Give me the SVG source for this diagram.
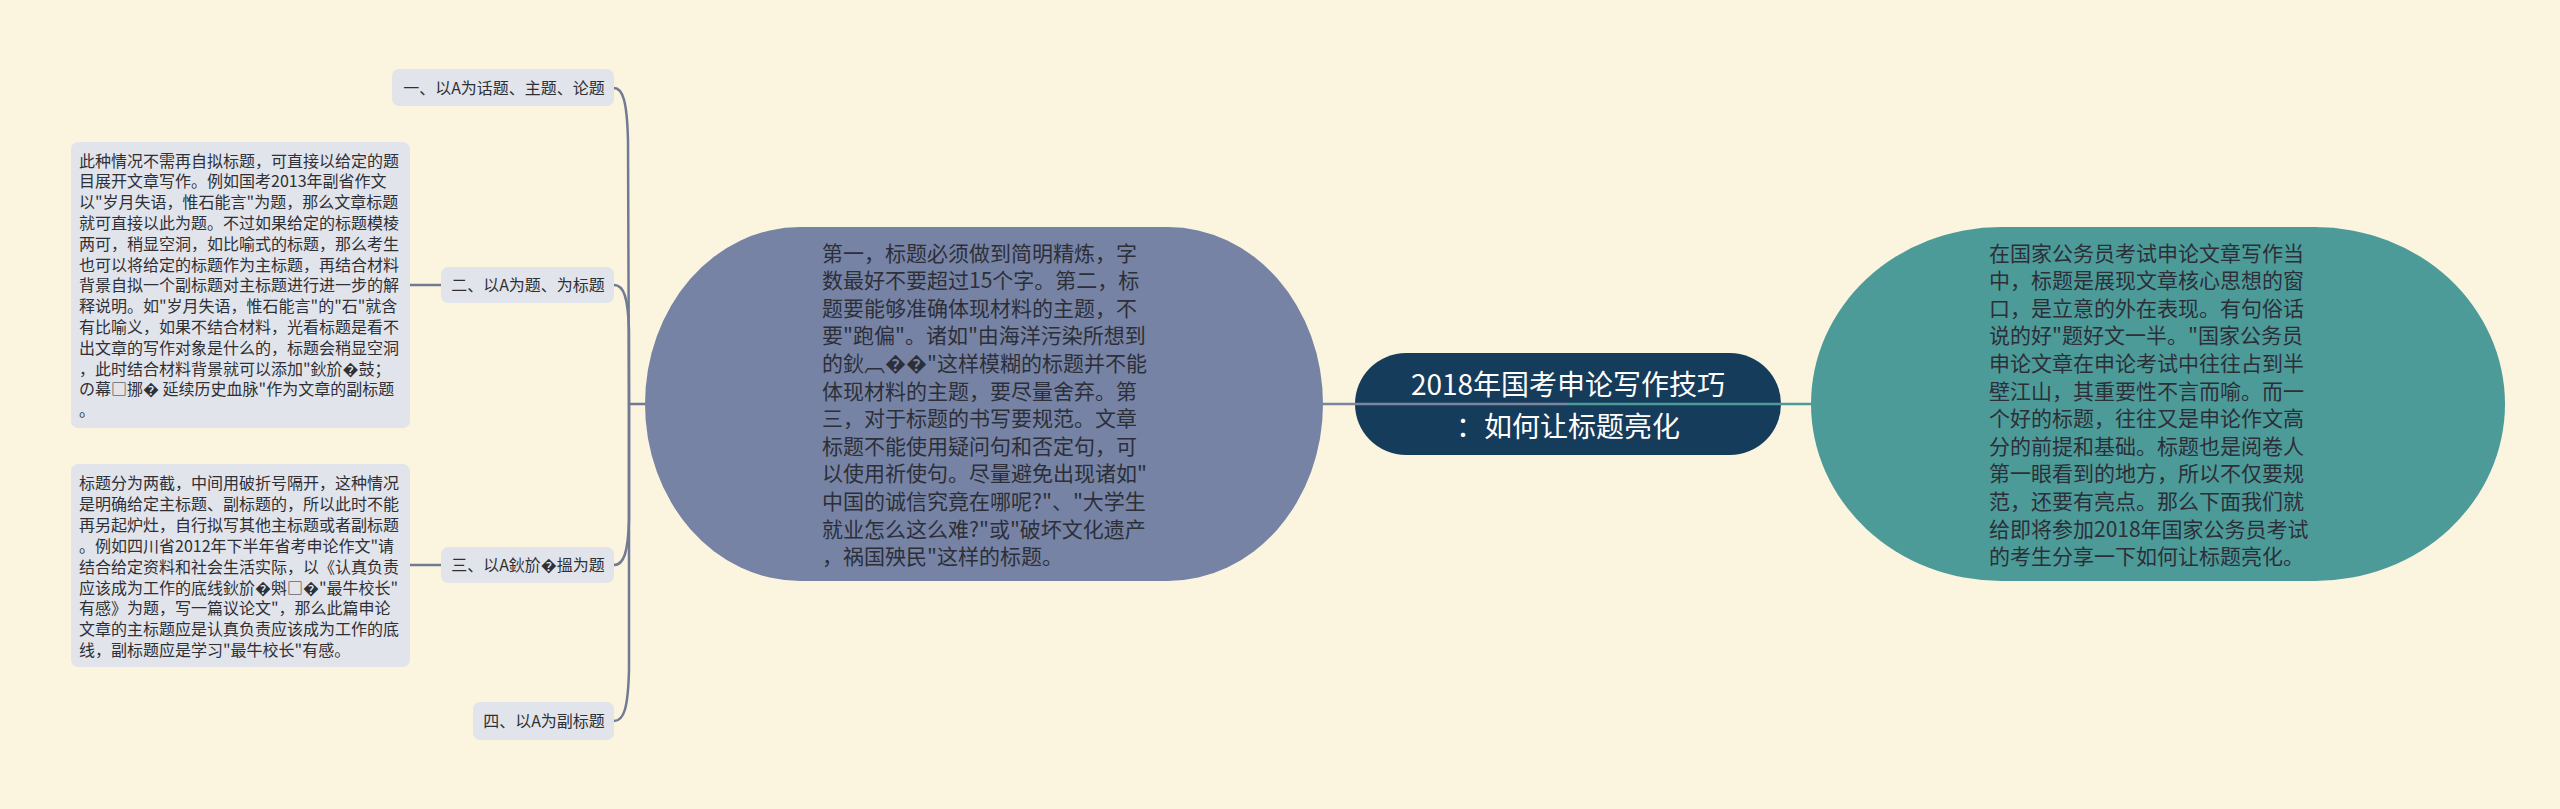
<svg xmlns="http://www.w3.org/2000/svg" width="2560" height="809" viewBox="0 0 2560 809">
<style>
.t{font-family:"Noto Sans CJK SC","Noto Sans",sans-serif;}
.lbl{fill:#e2e4eb;}
.lt{font-size:16px;fill:#2e3035;text-anchor:middle;}
.bt{font-size:16px;fill:#2e3035;}
.nt{font-size:21px;fill:#2c2f38;}
.ct{font-size:28px;fill:#ffffff;text-anchor:middle;}
.cl{fill:none;stroke:#717a93;stroke-width:2.5;}
.cr{fill:none;stroke:#4d9b98;stroke-width:2.5;}
</style>
<rect x="0" y="0" width="2560" height="809" fill="#fbf5e0"/>

<g id="center">
<rect x="1355" y="353" width="426" height="102" rx="51" ry="51" fill="#163c5c"/>
<text class="t ct"><tspan x="1568" y="395">2018年国考申论写作技巧</tspan><tspan x="1568" y="437">：如何让标题亮化</tspan></text>
</g>

<g id="left-main">
<rect x="645" y="227" width="678" height="354" rx="155" ry="177" fill="#7783a4"/>
<text class="t nt">
<tspan x="822" y="260.5">第一，标题必须做到简明精炼，字</tspan>
<tspan x="822" y="288.1">数最好不要超过15个字。第二，标</tspan>
<tspan x="822" y="315.7">题要能够准确体现材料的主题，不</tspan>
<tspan x="822" y="343.3">要"跑偏"。诸如"由海洋污染所想到</tspan>
<tspan x="822" y="370.9">的鈥︹��"这样模糊的标题并不能</tspan>
<tspan x="822" y="398.5">体现材料的主题，要尽量舍弃。第</tspan>
<tspan x="822" y="426.1">三，对于标题的书写要规范。文章</tspan>
<tspan x="822" y="453.7">标题不能使用疑问句和否定句，可</tspan>
<tspan x="822" y="481.3">以使用祈使句。尽量避免出现诸如"</tspan>
<tspan x="822" y="508.9">中国的诚信究竟在哪呢?"、"大学生</tspan>
<tspan x="822" y="536.5">就业怎么这么难?"或"破坏文化遗产</tspan>
<tspan x="822" y="564.1">，祸国殃民"这样的标题。</tspan>
</text>
</g>

<g id="right-main">
<rect x="1811" y="227" width="694" height="354" rx="190" ry="177" fill="#4d9b98"/>
<text class="t nt">
<tspan x="1989" y="260.5">在国家公务员考试申论文章写作当</tspan>
<tspan x="1989" y="288.1">中，标题是展现文章核心思想的窗</tspan>
<tspan x="1989" y="315.7">口，是立意的外在表现。有句俗话</tspan>
<tspan x="1989" y="343.3">说的好"题好文一半。"国家公务员</tspan>
<tspan x="1989" y="370.9">申论文章在申论考试中往往占到半</tspan>
<tspan x="1989" y="398.5">壁江山，其重要性不言而喻。而一</tspan>
<tspan x="1989" y="426.1">个好的标题，往往又是申论作文高</tspan>
<tspan x="1989" y="453.7">分的前提和基础。标题也是阅卷人</tspan>
<tspan x="1989" y="481.3">第一眼看到的地方，所以不仅要规</tspan>
<tspan x="1989" y="508.9">范，还要有亮点。那么下面我们就</tspan>
<tspan x="1989" y="536.5">给即将参加2018年国家公务员考试</tspan>
<tspan x="1989" y="564.1">的考生分享一下如何让标题亮化。</tspan>
</text>
</g>

<g id="label1">
<rect class="lbl" x="392" y="69" width="222" height="37" rx="7"/>
<text class="t lt" x="504" y="94">一、以A为话题、主题、论题</text>
</g>
<g id="label2">
<rect class="lbl" x="441" y="267" width="173" height="36" rx="7"/>
<text class="t lt" x="528" y="291">二、以A为题、为标题</text>
</g>
<g id="label3">
<rect class="lbl" x="441" y="547" width="173" height="36" rx="7"/>
<text class="t lt" x="528" y="571">三、以A鈥斺�搵为题</text>
</g>
<g id="label4">
<rect class="lbl" x="473" y="702" width="141" height="38" rx="7"/>
<text class="t lt" x="544" y="727">四、以A为副标题</text>
</g>

<g id="note2">
<rect class="lbl" x="71" y="142" width="339" height="286" rx="7"/>
<text class="t bt">
<tspan x="79" y="166.5">此种情况不需再自拟标题，可直接以给定的题</tspan>
<tspan x="79" y="187.3">目展开文章写作。例如国考2013年副省作文</tspan>
<tspan x="79" y="208.1">以"岁月失语，惟石能言"为题，那么文章标题</tspan>
<tspan x="79" y="228.9">就可直接以此为题。不过如果给定的标题模棱</tspan>
<tspan x="79" y="249.7">两可，稍显空洞，如比喻式的标题，那么考生</tspan>
<tspan x="79" y="270.5">也可以将给定的标题作为主标题，再结合材料</tspan>
<tspan x="79" y="291.3">背景自拟一个副标题对主标题进行进一步的解</tspan>
<tspan x="79" y="312.1">释说明。如"岁月失语，惟石能言"的"石"就含</tspan>
<tspan x="79" y="332.9">有比喻义，如果不结合材料，光看标题是看不</tspan>
<tspan x="79" y="353.7">出文章的写作对象是什么的，标题会稍显空洞</tspan>
<tspan x="79" y="374.5">，此时结合材料背景就可以添加"鈥斺�鼓；</tspan>
<tspan x="79" y="395.3">の幕□挪� 延续历史血脉"作为文章的副标题</tspan>
<tspan x="79" y="416.1">。</tspan>
</text>
</g>

<g id="note3">
<rect class="lbl" x="71" y="464" width="339" height="203" rx="7"/>
<text class="t bt">
<tspan x="79" y="489">标题分为两截，中间用破折号隔开，这种情况</tspan>
<tspan x="79" y="509.9">是明确给定主标题、副标题的，所以此时不能</tspan>
<tspan x="79" y="530.8">再另起炉灶，自行拟写其他主标题或者副标题</tspan>
<tspan x="79" y="551.7">。例如四川省2012年下半年省考申论作文"请</tspan>
<tspan x="79" y="572.6">结合给定资料和社会生活实际，以《认真负责</tspan>
<tspan x="79" y="593.5">应该成为工作的底线鈥斺�斞□�"最牛校长"</tspan>
<tspan x="79" y="614.4">有感》为题，写一篇议论文"，那么此篇申论</tspan>
<tspan x="79" y="635.3">文章的主标题应是认真负责应该成为工作的底</tspan>
<tspan x="79" y="656.2">线，副标题应是学习"最牛校长"有感。</tspan>
</text>
</g>

<g id="connectors">
<path class="cl" d="M645,404 L629,404 L628,140 C627,102 623,88 614,88"/>
<path class="cl" d="M629,404 L629,330 C628,298 624,285 614,285"/>
<path class="cl" d="M629,404 L629,520 C628,552 624,565 614,565"/>
<path class="cl" d="M629,404 L629,670 C628,708 624,721 614,721"/>
<path class="cl" d="M410,285 L441,285"/>
<path class="cl" d="M410,565 L441,565"/>
<path class="cl" d="M1323,404 L1568,404" style="stroke:#7d84a0"/>
<path class="cr" d="M1568,404 L1811,404"/>
</g>
</svg>
